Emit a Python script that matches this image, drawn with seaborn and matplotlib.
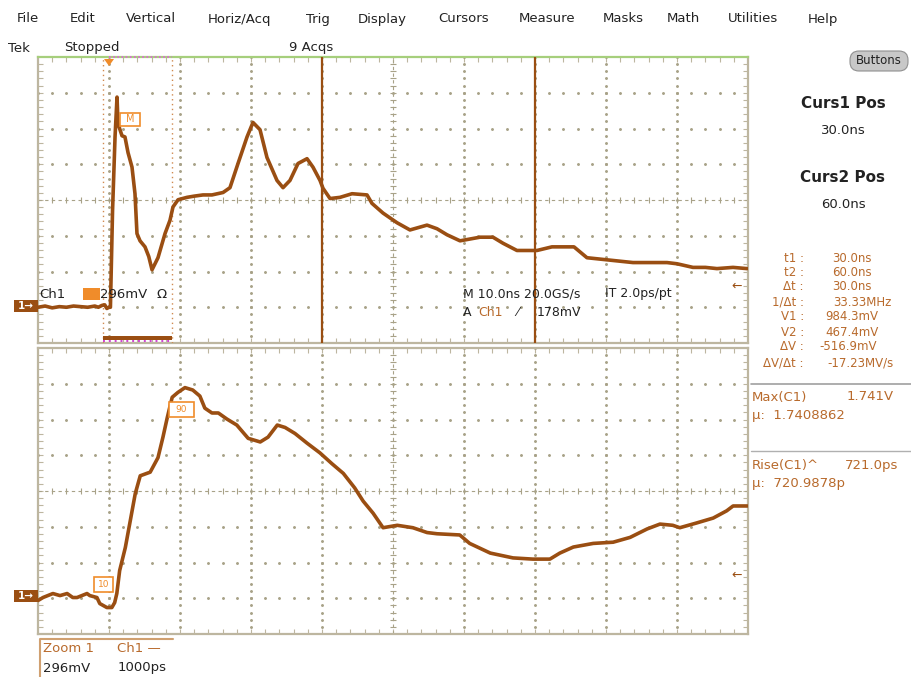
import numpy as np
import pandas as pd
import matplotlib
matplotlib.use("Agg")
import matplotlib.pyplot as plt
import matplotlib.transforms as mtransforms
from matplotlib.patches import Rectangle, FancyBboxPatch, Polygon
import seaborn as sns

# ---------------- data ----------------
menu_items = ["File", "Edit", "Vertical", "Horiz/Acq", "Trig", "Display", "Cursors",
              "Measure", "Masks", "Math", "Utilities", "Help"]
menu_x = [17, 70, 126, 208, 306, 358, 438, 519, 603, 667, 728, 808]

# upper (main) waveform: time in ns, voltage in V
upper_time_ns = [-10.0, -9.0, -8.0, -7.0, -6.0, -5.0, -4.0, -3.0, -2.0, -1.5, -1.0, -0.6, -0.3, 0.0, 0.2,
                 0.5, 0.85, 1.13, 1.27, 1.55, 1.83, 2.25, 2.68, 3.24, 3.66, 3.94, 4.37, 5.07, 5.6, 6.06,
                 6.9, 7.89, 8.59, 9.01, 9.72, 10.99, 12.0, 13.24, 14.5, 16.06, 17.04, 18.17, 19.44,
                 20.28, 21.27, 22.25, 23.66, 24.51, 25.49, 26.62, 27.89, 28.73, 29.72, 30.14, 31.13,
                 32.54, 34.23, 36.34, 37.04, 38.59, 40.56, 42.39, 44.79, 46.2, 47.61, 49.44, 52.25,
                 54.08, 55.49, 57.46, 60.28, 62.39, 65.49, 67.32, 70.56, 73.8, 76.0, 78.59, 80.0,
                 82.25, 84.0, 85.63, 87.89, 89.86]
upper_volts = [0.0, 0.01, -0.005, 0.005, 0.0, 0.01, 0.005, 0.0, 0.01, 0.0, 0.015, 0.02, -0.01, 0.0, 0.0,
               0.8, 1.41, 1.74, 1.52, 1.47, 1.42, 1.41, 1.28, 1.16, 0.94, 0.61, 0.55, 0.5, 0.42, 0.31,
               0.41, 0.61, 0.72, 0.83, 0.89, 0.91, 0.92, 0.93, 0.93, 0.95, 0.99, 1.19, 1.41,
               1.53, 1.47, 1.24, 1.05, 0.99, 1.05, 1.19, 1.23, 1.16, 1.05, 0.985, 0.9,
               0.91, 0.94, 0.93, 0.86, 0.78, 0.7, 0.64, 0.68, 0.65, 0.6, 0.55, 0.58,
               0.58, 0.53, 0.47, 0.47, 0.5, 0.5, 0.41, 0.39, 0.37, 0.37, 0.37, 0.36,
               0.33, 0.33, 0.32, 0.33, 0.32]

# lower (zoom) waveform: time in ns, voltage in V
lower_time_ns = [-1.0, -0.93, -0.79, -0.69, -0.59, -0.51, -0.45, -0.31, -0.27, -0.17, -0.13, -0.03, 0.04,
                 0.08, 0.11, 0.15, 0.23, 0.3, 0.37, 0.44, 0.58, 0.69, 0.76, 0.82, 0.89, 0.97, 1.07,
                 1.18, 1.28, 1.35, 1.45, 1.54, 1.66, 1.8, 1.96, 2.13, 2.24, 2.37, 2.48, 2.62, 2.79,
                 2.97, 3.14, 3.3, 3.46, 3.58, 3.72, 3.86, 4.06, 4.28, 4.48, 4.62, 4.94, 5.08, 5.37,
                 5.69, 5.97, 6.21, 6.35, 6.54, 6.82, 7.1, 7.34, 7.58, 7.76, 7.94, 8.04, 8.28, 8.51,
                 8.7, 8.79, 8.99]
lower_volts = [-0.033, -0.008, 0.025, 0.008, 0.025, -0.008, -0.008, 0.025, 0.008, -0.008, -0.058, -0.091,
               -0.091, -0.05, 0.025, 0.215, 0.406, 0.629, 0.853, 1.0, 1.03, 1.15, 1.32, 1.48, 1.65,
               1.69, 1.73, 1.71, 1.66, 1.56, 1.52, 1.52, 1.47, 1.42, 1.31, 1.28, 1.32, 1.42, 1.4,
               1.35, 1.27, 1.19, 1.1, 1.02, 0.9, 0.79, 0.69, 0.57, 0.59, 0.57, 0.53, 0.52, 0.51,
               0.44, 0.36, 0.32, 0.31, 0.31, 0.36, 0.41, 0.44, 0.45, 0.49, 0.56, 0.6, 0.59, 0.57,
               0.61, 0.65, 0.71, 0.75, 0.75]

cursor_times_ns = [30.0, 60.0]
zoom_window_ns = [-0.85, 8.87]

readout_labels = ["t1 :", "t2 :", "Δt :", "1/Δt :", "V1 :", "V2 :", "ΔV :", "ΔV/Δt :"]
readout_values = ["30.0ns", "60.0ns", "30.0ns", "33.33MHz", "984.3mV", "467.4mV", "-516.9mV", "-17.23MV/s"]

VDIV = 0.296
# ---------------- style ----------------
sns.set_theme(style="white")
plt.rcParams['font.family'] = ['DejaVu Sans']

TRACE = "#9a4e12"
ORANGE_TXT = "#b86a2c"
BOX = "#f08c2a"
FRAME = "#bdb6a0"
GRIDC = "#a8a288"

fig = plt.figure(figsize=(9.12, 6.77), dpi=100)
fig.patch.set_facecolor("white")
PX = mtransforms.Affine2D().scale(1 / 912, -1 / 677).translate(0, 1) + fig.transFigure


def T(x, y, s, **kw):
    kw.setdefault("va", "center")
    kw.setdefault("fontsize", 9.5)
    kw.setdefault("color", "#222222")
    return fig.text(x, y, s, transform=PX, **kw)


def make_axes(rect_px, xlim, ylim):
    l, t, r, b = rect_px
    ax = fig.add_axes([l / 912, 1 - b / 677, (r - l) / 912, (b - t) / 677])
    ax.set_xlim(*xlim)
    ax.set_ylim(*ylim)
    ax.set_facecolor("white")
    x0, x1 = xlim
    y0, y1 = ylim
    dx = (x1 - x0) / 10
    dy = (y1 - y0) / 8
    xmin = np.linspace(x0, x1, 51)
    ymin = np.linspace(y0, y1, 41)
    # dotted grid lines
    for i in range(1, 10):
        if i == 5:
            continue
        xv = x0 + i * dx
        ax.plot(np.full_like(ymin, xv), ymin, ls="none", marker="o", ms=1.1, color=GRIDC, zorder=1)
    for j in range(1, 8):
        if j == 4:
            continue
        yv = y0 + j * dy
        ax.plot(xmin, np.full_like(xmin, yv), ls="none", marker="o", ms=1.1, color=GRIDC, zorder=1)
    # center crosshair with ticks
    xc = x0 + 5 * dx
    yc = y0 + 4 * dy
    ax.axhline(yc, color=GRIDC, lw=0.8, ls=(0, (3, 3)), zorder=1)
    ax.axvline(xc, color=GRIDC, lw=0.8, ls=(0, (3, 3)), zorder=1)
    ax.plot(xmin, np.full_like(xmin, yc), ls="none", marker="|", ms=4.5, mew=0.8, color=GRIDC, zorder=1)
    ax.plot(np.full_like(ymin, xc), ymin, ls="none", marker="_", ms=4.5, mew=0.8, color=GRIDC, zorder=1)
    # border ticks
    ax.set_xticks(xmin[1:-1])
    ax.set_yticks(ymin[1:-1])
    ax.tick_params(direction="in", length=3.5, width=0.8, color=FRAME, top=True, right=True,
                   bottom=True, left=True, labelbottom=False, labelleft=False)
    for s in ax.spines.values():
        s.set_color(FRAME)
        s.set_linewidth(1.6)
    return ax


# ---------------- upper panel ----------------
ax1 = make_axes((38, 57, 748, 343), (-10, 90), (-VDIV, 7 * VDIV))
ax1.spines["top"].set_color("#a6cf7c")
df_u = pd.DataFrame({"t": upper_time_ns, "v": upper_volts})
sns.lineplot(data=df_u, x="t", y="v", ax=ax1, color=TRACE, lw=2.6, estimator=None, sort=False, zorder=5)
for ct in cursor_times_ns:
    ax1.axvline(ct, color=TRACE, lw=1.6, zorder=4)
for zt in zoom_window_ns:
    ax1.axvline(zt, color="#d08a50", lw=1.0, ls=(0, (1, 2.5)), zorder=3)
ax1.set_xlabel("")
ax1.set_ylabel("")

# ---------------- lower panel ----------------
ax2 = make_axes((38, 348, 748, 634), (-1, 9), (-0.31, -0.31 + 8 * VDIV))
df_l = pd.DataFrame({"t": lower_time_ns, "v": lower_volts})
sns.lineplot(data=df_l, x="t", y="v", ax=ax2, color=TRACE, lw=2.6, estimator=None, sort=False, zorder=5)
ax2.set_xlabel("")
ax2.set_ylabel("")

# ---------------- menu and header ----------------
for name, x in zip(menu_items, menu_x):
    T(x, 19, name, fontsize=9.5)
T(8, 48, "Tek", fontsize=9.5)
T(64, 48, "Stopped", fontsize=9.5)
T(289, 48, "9 Acqs", fontsize=9.5)
fig.add_artist(FancyBboxPatch((850, 51), 58, 20, boxstyle="round,pad=0,rounding_size=9",
                              transform=PX, facecolor="#c8c8c8", edgecolor="#909090", lw=0.8))
T(879, 61, "Buttons", fontsize=8.5, ha="center")

# zoom indicators on upper panel
fig.add_artist(plt.Line2D([109, 172], [57, 57], transform=PX, color="#e060e0", lw=1.2, ls=(0, (1, 1.5))))
fig.add_artist(Rectangle((103, 336), 69, 4, transform=PX, facecolor=TRACE, edgecolor="none"))
fig.add_artist(plt.Line2D([103, 172], [341, 341], transform=PX, color="#d040d0", lw=1.4, ls=(0, (1, 2))))
fig.add_artist(Polygon([[104, 59], [114, 59], [109, 66]], closed=True, transform=PX, facecolor=BOX, edgecolor="none"))

# measurement box near spike
fig.add_artist(Rectangle((120, 113), 20, 13, transform=PX, facecolor="white", edgecolor=BOX, lw=1.2))
T(130, 119.5, "M", fontsize=7, color=BOX, ha="center")

# channel label and ground markers
T(39, 294, "Ch1", fontsize=9.5)
fig.add_artist(Rectangle((83, 288), 17, 12, transform=PX, facecolor=BOX, edgecolor="none"))
T(100, 294, "296mV", fontsize=9.5)
T(157, 294, "Ω", fontsize=9.5)
for gy in (306, 596):
    fig.add_artist(Rectangle((14, gy - 6), 24, 12, transform=PX, facecolor=TRACE, edgecolor="none"))
    T(26, gy, "1→", fontsize=7.5, color="white", ha="center", fontweight="bold")

# timebase / trigger info
T(463, 294, "M 10.0ns 20.0GS/s", fontsize=9)
T(605, 294, "IT 2.0ps/pt", fontsize=9)
T(463, 312, "A", fontsize=9)
T(478, 312, "Ch1", fontsize=9, color=ORANGE_TXT)
T(516, 312, "⁄", fontsize=9)
T(537, 312, "178mV", fontsize=9)
T(731, 286, "←", fontsize=9, color=TRACE)
T(731, 575, "←", fontsize=9, color=TRACE)

# lower panel annotations
fig.add_artist(Rectangle((94, 577), 19, 15, transform=PX, facecolor="white", edgecolor=BOX, lw=1.2))
T(103.5, 584.5, "10", fontsize=6.5, color=BOX, ha="center")
fig.add_artist(Rectangle((169, 402), 25, 15, transform=PX, facecolor="white", edgecolor=BOX, lw=1.2))
T(181.5, 409.5, "90", fontsize=6.5, color=BOX, ha="center")

# zoom readout box below
fig.add_artist(plt.Line2D([40, 40, 173], [677, 639, 639], transform=PX, color="#d0a070", lw=1.5))
T(43, 649, "Zoom 1", fontsize=9.5, color=ORANGE_TXT)
T(117, 649, "Ch1 —", fontsize=9.5, color=ORANGE_TXT)
T(43, 668, "296mV", fontsize=9.5)
T(118, 668, "1000ps", fontsize=9.5)

# ---------------- right side panel ----------------
T(843, 103, "Curs1 Pos", fontsize=11, fontweight="bold", ha="center")
T(843, 131, "30.0ns", fontsize=9.5, ha="center")
T(843, 177, "Curs2 Pos", fontsize=11, fontweight="bold", ha="center")
T(843, 205, "60.0ns", fontsize=9.5, ha="center")
row_y = [258, 273, 287, 302, 317, 332, 347, 363]
val_x = [832, 832, 832, 833, 825, 825, 819, 827]
for lab, val, yy, vx in zip(readout_labels, readout_values, row_y, val_x):
    T(804, yy, lab, fontsize=8.5, color=ORANGE_TXT, ha="right")
    T(vx, yy, val, fontsize=8.5, color=ORANGE_TXT)

fig.add_artist(plt.Line2D([751, 912], [384, 384], transform=PX, color="#a0a0a0", lw=1.2))
T(752, 397, "Max(C1)", fontsize=9.5, color=ORANGE_TXT)
T(847, 397, "1.741V", fontsize=9.5, color=ORANGE_TXT)
T(752, 415, "μ:  1.7408862", fontsize=9.5, color=ORANGE_TXT)
fig.add_artist(plt.Line2D([751, 912], [451, 451], transform=PX, color="#b0b0b0", lw=1.0))
T(752, 465, "Rise(C1)^", fontsize=9.5, color=ORANGE_TXT)
T(845, 465, "721.0ps", fontsize=9.5, color=ORANGE_TXT)
T(752, 483, "μ:  720.9878p", fontsize=9.5, color=ORANGE_TXT)

fig.savefig("out.png", dpi=100)
